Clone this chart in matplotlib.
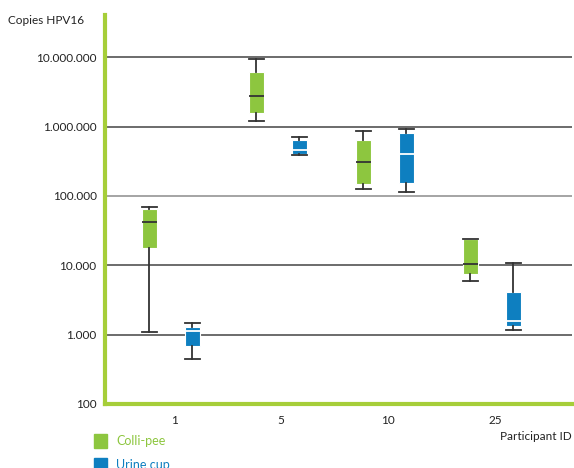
import numpy as np
import matplotlib
matplotlib.use("Agg")
import matplotlib.pyplot as plt
from matplotlib.ticker import FixedLocator, FuncFormatter, NullLocator

# participants on the x axis
participants = ["1", "5", "10", "25"]
series_names = ["Colli-pee", "Urine cup"]

# box stats per participant (copies HPV16)
colli_whislo = [1090, 1210000, 125000, 5900]
colli_q1     = [17700, 1550000, 149000, 7600]
colli_med    = [41900, 2770000, 307000, 10600]
colli_q3     = [64500, 6200000, 637000, 24000]
colli_whishi = [69000, 9460000, 859000, 24100]

cup_whislo = [445, 396000, 113000, 1160]
cup_q1     = [692, 409000, 155000, 1330]
cup_med    = [1130, 468000, 409000, 1570]
cup_q3     = [1270, 651000, 812000, 4160]
cup_whishi = [1486, 711000, 938000, 10800]

ytick_vals = [100, 1000, 10000, 100000, 1000000, 10000000]

GREEN = "#8dc63f"
BLUE = "#0e7fc0"
AXIS_GREEN = "#a6ce39"
DARK = "#333333"

plt.rcParams["font.family"] = ["Lato", "DejaVu Sans"]

fig = plt.figure(figsize=(5.74, 4.68), dpi=100)
ax = fig.add_axes([105 / 574, 1 - 404 / 468, (572 - 105) / 574, (404 - 15) / 468])


def make_stats(lo, q1, med, q3, hi):
    return [dict(whislo=a, q1=b, med=c, q3=d, whishi=e, fliers=[])
            for a, b, c, d, e in zip(lo, q1, med, q3, hi)]


x = np.arange(len(participants))
for stats, offs, col, medcol in [
        (make_stats(colli_whislo, colli_q1, colli_med, colli_q3, colli_whishi), -0.23, GREEN, DARK),
        (make_stats(cup_whislo, cup_q1, cup_med, cup_q3, cup_whishi), 0.17, BLUE, "white")]:
    ax.bxp(stats, positions=x + offs, widths=0.14, patch_artist=True,
           showfliers=False, manage_ticks=False,
           boxprops=dict(facecolor=col, edgecolor="white", linewidth=0.8),
           medianprops=dict(color=medcol, linewidth=1.3),
           whiskerprops=dict(color=DARK, linewidth=1.3),
           capprops=dict(color=DARK, linewidth=1.3),
           capwidths=0.14, zorder=3)

ax.set_yscale("log")
ax.set_ylim(100, 10 ** 7.61)
ax.set_xlim(-0.645, 3.72)

ax.yaxis.set_major_locator(FixedLocator(ytick_vals))
ax.yaxis.set_minor_locator(NullLocator())
ax.yaxis.set_major_formatter(FuncFormatter(lambda v, p: f"{int(round(v)):,}".replace(",", ".")))
ax.set_xticks(x)
ax.set_xticklabels(participants)
ax.tick_params(axis="both", length=0, labelsize=8.5, colors="#222222")
ax.tick_params(axis="x", pad=8)
ax.tick_params(axis="y", pad=6)

for v in ytick_vals[1:]:
    ax.axhline(v, color="#444444" if v != 100000 else "#8c8c8c", linewidth=1.1, zorder=1)

for s in ["top", "right"]:
    ax.spines[s].set_visible(False)
ax.spines["left"].set_color(AXIS_GREEN)
ax.spines["left"].set_linewidth(3)
ax.spines["bottom"].set_color(AXIS_GREEN)
ax.spines["bottom"].set_linewidth(3)

fig.text(8 / 574, 1 - 20 / 468, "Copies HPV16", fontsize=8.5, color="#222222", va="center")
fig.text(572 / 574, 1 - 437 / 468, "Participant ID", fontsize=8.5, color="#222222",
         va="center", ha="right")

# legend drawn as squares + coloured labels
for i, (name, col) in enumerate(zip(series_names, [GREEN, BLUE])):
    yc = 441 + i * 24
    fig.patches.append(plt.Rectangle((94 / 574, 1 - (yc + 7) / 468), 13 / 574, 14 / 468,
                                     transform=fig.transFigure, color=col, figure=fig))
    fig.text(116 / 574, 1 - yc / 468, name, fontsize=9, color=col, va="center")

fig.savefig("out.png", dpi=100)
